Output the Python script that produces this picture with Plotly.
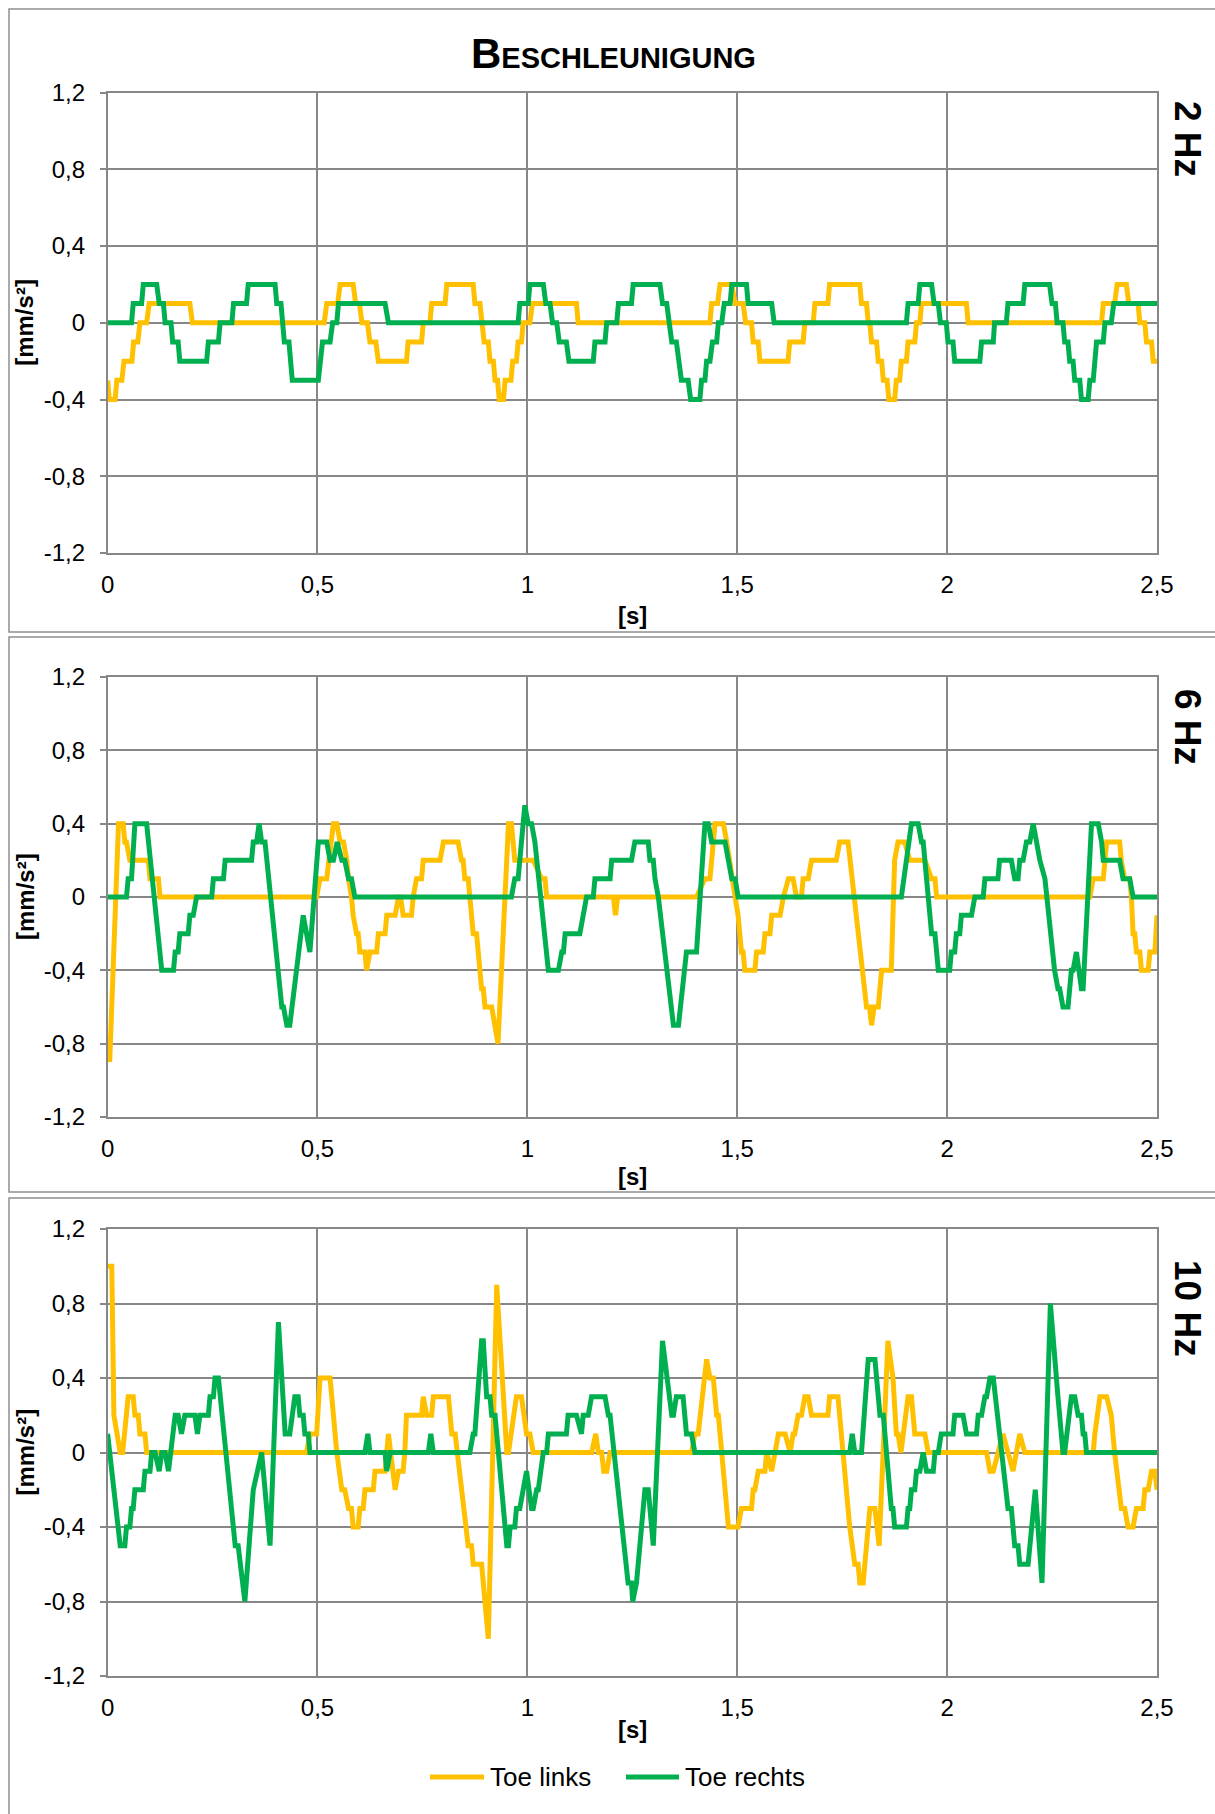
import plotly.graph_objects as go

# ---------------- data (time [s], acceleration [mm/s²]) ----------------
links_2hz = [(0, -0.3), (0.004, -0.4), (0.018, -0.4), (0.022, -0.3), (0.034, -0.3), (0.039, -0.2), (0.058, -0.2),
             (0.062, -0.1), (0.072, -0.1), (0.077, 0), (0.093, 0), (0.099, 0.1), (0.196, 0.1), (0.202, 0),
             (0.516, 0), (0.522, 0.1), (0.548, 0.1), (0.554, 0.2), (0.585, 0.2), (0.591, 0.1), (0.600, 0.1),
             (0.606, 0), (0.619, 0), (0.625, -0.1), (0.639, -0.1), (0.645, -0.2), (0.712, -0.2), (0.716, -0.1),
             (0.748, -0.1), (0.752, 0), (0.768, 0), (0.772, 0.1), (0.804, 0.1), (0.808, 0.2), (0.871, 0.2),
             (0.875, 0.1), (0.887, 0.1), (0.893, 0), (0.897, -0.1), (0.907, -0.1), (0.911, -0.2), (0.919, -0.2),
             (0.923, -0.3), (0.929, -0.3), (0.933, -0.4), (0.943, -0.4), (0.947, -0.3), (0.961, -0.3),
             (0.965, -0.2), (0.974, -0.2), (0.978, -0.1), (0.986, -0.1), (0.990, 0), (1.006, 0), (1.012, 0.1),
             (1.117, 0.1), (1.121, 0), (1.435, 0), (1.439, 0.1), (1.453, 0.1), (1.459, 0.2), (1.487, 0.2),
             (1.495, 0.1), (1.514, 0.1), (1.520, 0), (1.534, 0), (1.538, -0.1), (1.550, -0.1), (1.554, -0.2),
             (1.621, -0.2), (1.625, -0.1), (1.657, -0.1), (1.661, 0), (1.681, 0), (1.685, 0.1), (1.716, 0.1),
             (1.720, 0.2), (1.792, 0.2), (1.796, 0.1), (1.808, 0.1), (1.812, 0), (1.816, 0), (1.820, -0.1),
             (1.832, -0.1), (1.836, -0.2), (1.844, -0.2), (1.848, -0.3), (1.857, -0.3), (1.861, -0.4),
             (1.875, -0.4), (1.879, -0.3), (1.887, -0.3), (1.891, -0.2), (1.903, -0.2), (1.907, -0.1),
             (1.923, -0.1), (1.927, 0), (1.935, 0), (1.939, 0.1), (2.046, 0.1), (2.050, 0), (2.368, 0),
             (2.372, 0.1), (2.399, 0.1), (2.405, 0.2), (2.427, 0.2), (2.433, 0.1), (2.455, 0.1), (2.459, 0),
             (2.471, 0), (2.475, -0.1), (2.487, -0.1), (2.491, -0.2), (2.5, -0.2)]

rechts_2hz = [(0, 0), (0.057, 0), (0.061, 0.1), (0.081, 0.1), (0.085, 0.2), (0.117, 0.2), (0.123, 0.1),
              (0.133, 0.1), (0.137, 0), (0.151, 0), (0.155, -0.1), (0.168, -0.1), (0.172, -0.2), (0.236, -0.2),
              (0.240, -0.1), (0.264, -0.1), (0.268, 0), (0.296, 0), (0.300, 0.1), (0.331, 0.1), (0.335, 0.2),
              (0.399, 0.2), (0.403, 0.1), (0.413, 0.1), (0.417, 0), (0.421, -0.1), (0.432, -0.1), (0.436, -0.2),
              (0.440, -0.3), (0.502, -0.3), (0.506, -0.2), (0.512, -0.1), (0.530, -0.1), (0.536, 0), (0.546, 0),
              (0.550, 0.1), (0.661, 0.1), (0.669, 0), (0.978, 0), (0.982, 0.1), (1.002, 0.1), (1.006, 0.2),
              (1.038, 0.2), (1.044, 0.1), (1.054, 0.1), (1.060, 0), (1.070, 0), (1.076, -0.1), (1.093, -0.1),
              (1.099, -0.2), (1.157, -0.2), (1.161, -0.1), (1.185, -0.1), (1.189, 0), (1.213, 0), (1.217, 0.1),
              (1.248, 0.1), (1.252, 0.2), (1.316, 0.2), (1.322, 0.1), (1.332, 0.1), (1.338, 0), (1.344, -0.1),
              (1.355, -0.1), (1.361, -0.2), (1.367, -0.3), (1.383, -0.3), (1.389, -0.4), (1.411, -0.4),
              (1.415, -0.3), (1.423, -0.3), (1.427, -0.2), (1.435, -0.2), (1.441, -0.1), (1.451, -0.1),
              (1.455, 0), (1.463, 0), (1.469, 0.1), (1.483, 0.1), (1.487, 0.2), (1.522, 0.2), (1.526, 0.1),
              (1.582, 0.1), (1.588, 0), (1.903, 0), (1.907, 0.1), (1.931, 0.1), (1.935, 0.2), (1.963, 0.2),
              (1.969, 0.1), (1.979, 0.1), (1.984, 0), (1.998, 0), (2.002, -0.1), (2.014, -0.1), (2.018, -0.2),
              (2.078, -0.2), (2.082, -0.1), (2.110, -0.1), (2.113, 0), (2.141, 0), (2.145, 0.1), (2.181, 0.1),
              (2.185, 0.2), (2.244, 0.2), (2.250, 0.1), (2.258, 0.1), (2.262, 0), (2.276, 0), (2.280, -0.1),
              (2.288, -0.1), (2.292, -0.2), (2.300, -0.2), (2.304, -0.3), (2.316, -0.3), (2.320, -0.4),
              (2.336, -0.4), (2.340, -0.3), (2.348, -0.3), (2.352, -0.2), (2.356, -0.1), (2.372, -0.1),
              (2.376, 0), (2.391, 0), (2.397, 0.1), (2.5, 0.1)]

links_6hz = [(0, -0.8), (0.005, -0.9), (0.026, 0.4), (0.037, 0.4), (0.041, 0.3), (0.045, 0.3), (0.053, 0.2),
             (0.097, 0.2), (0.101, 0.1), (0.121, 0.1), (0.125, 0), (0.498, 0), (0.506, 0.1), (0.522, 0.1),
             (0.538, 0.4), (0.546, 0.4), (0.554, 0.3), (0.562, 0.3), (0.570, 0.2), (0.574, 0.1), (0.581, 0),
             (0.585, -0.1), (0.593, -0.2), (0.597, -0.2), (0.601, -0.3), (0.613, -0.3), (0.617, -0.4),
             (0.625, -0.3), (0.641, -0.3), (0.645, -0.2), (0.661, -0.2), (0.665, -0.1), (0.685, -0.1),
             (0.693, 0), (0.698, 0), (0.704, -0.1), (0.724, -0.1), (0.728, 0), (0.736, 0.1), (0.748, 0.1),
             (0.752, 0.2), (0.792, 0.2), (0.800, 0.3), (0.835, 0.3), (0.843, 0.2), (0.847, 0.2), (0.851, 0.1),
             (0.859, 0.1), (0.867, -0.1), (0.871, -0.2), (0.879, -0.2), (0.883, -0.3), (0.887, -0.4),
             (0.891, -0.5), (0.895, -0.5), (0.899, -0.6), (0.915, -0.6), (0.930, -0.8), (0.955, 0.4),
             (0.962, 0.4), (0.970, 0.2), (1.014, 0.2), (1.034, 0.1), (1.042, 0.1), (1.046, 0), (1.205, 0),
             (1.210, -0.1), (1.215, 0), (1.403, 0), (1.423, 0.1), (1.435, 0.1), (1.447, 0.4), (1.467, 0.4),
             (1.475, 0.3), (1.495, 0), (1.502, -0.1), (1.510, -0.3), (1.514, -0.3), (1.518, -0.4), (1.542, -0.4),
             (1.546, -0.3), (1.562, -0.3), (1.566, -0.2), (1.578, -0.2), (1.582, -0.1), (1.602, -0.1),
             (1.610, 0), (1.622, 0.1), (1.633, 0.1), (1.641, 0), (1.653, 0), (1.657, 0.1), (1.669, 0.1),
             (1.677, 0.2), (1.736, 0.2), (1.744, 0.3), (1.764, 0.3), (1.808, -0.6), (1.815, -0.6), (1.820, -0.7),
             (1.826, -0.6), (1.836, -0.6), (1.844, -0.4), (1.867, -0.4), (1.875, 0.2), (1.883, 0.3),
             (1.899, 0.3), (1.911, 0.2), (1.947, 0.2), (1.963, 0.1), (1.971, 0.1), (1.975, 0), (2.340, 0),
             (2.348, 0.1), (2.372, 0.1), (2.380, 0.3), (2.411, 0.3), (2.415, 0.2), (2.423, 0.1), (2.435, 0.1),
             (2.439, 0), (2.443, -0.2), (2.447, -0.2), (2.451, -0.3), (2.459, -0.3), (2.463, -0.4),
             (2.479, -0.4), (2.483, -0.3), (2.495, -0.3), (2.5, -0.1)]

rechts_6hz = [(0, 0), (0.045, 0), (0.049, 0.1), (0.057, 0.1), (0.065, 0.4), (0.093, 0.4), (0.129, -0.4),
              (0.157, -0.4), (0.161, -0.3), (0.168, -0.3), (0.172, -0.2), (0.192, -0.2), (0.196, -0.1),
              (0.204, -0.1), (0.212, 0), (0.248, 0), (0.252, 0.1), (0.276, 0.1), (0.280, 0.2), (0.343, 0.2),
              (0.347, 0.3), (0.355, 0.3), (0.361, 0.4), (0.367, 0.3), (0.375, 0.3), (0.415, -0.6), (0.419, -0.6),
              (0.427, -0.7), (0.434, -0.7), (0.466, -0.1), (0.482, -0.3), (0.502, 0.3), (0.522, 0.3),
              (0.530, 0.2), (0.538, 0.2), (0.547, 0.3), (0.558, 0.2), (0.565, 0.2), (0.574, 0.1), (0.581, 0.1),
              (0.589, 0), (0.962, 0), (0.970, 0.1), (0.978, 0.1), (0.994, 0.5), (1.002, 0.4), (1.010, 0.4),
              (1.018, 0.3), (1.050, -0.4), (1.074, -0.4), (1.082, -0.3), (1.086, -0.3), (1.090, -0.2),
              (1.125, -0.2), (1.133, -0.1), (1.141, 0), (1.157, 0), (1.161, 0.1), (1.197, 0.1), (1.201, 0.2),
              (1.248, 0.2), (1.256, 0.3), (1.288, 0.3), (1.292, 0.2), (1.300, 0.2), (1.304, 0.1), (1.312, 0),
              (1.348, -0.7), (1.360, -0.7), (1.379, -0.3), (1.403, -0.3), (1.423, 0.4), (1.431, 0.4),
              (1.439, 0.3), (1.471, 0.3), (1.479, 0.2), (1.487, 0.1), (1.495, 0.1), (1.502, 0), (1.891, 0),
              (1.915, 0.4), (1.931, 0.4), (1.939, 0.3), (1.943, 0.3), (1.951, 0.1), (1.963, -0.2), (1.971, -0.2),
              (1.979, -0.4), (2.006, -0.4), (2.010, -0.3), (2.018, -0.3), (2.022, -0.2), (2.030, -0.2),
              (2.034, -0.1), (2.058, -0.1), (2.066, 0), (2.086, 0), (2.090, 0.1), (2.121, 0.1), (2.125, 0.2),
              (2.153, 0.2), (2.161, 0.1), (2.169, 0.1), (2.173, 0.2), (2.181, 0.2), (2.189, 0.3), (2.197, 0.3),
              (2.205, 0.4), (2.213, 0.3), (2.221, 0.2), (2.233, 0.1), (2.256, -0.4), (2.264, -0.5), (2.268, -0.5),
              (2.276, -0.6), (2.288, -0.6), (2.296, -0.4), (2.300, -0.4), (2.308, -0.3), (2.320, -0.5),
              (2.324, -0.5), (2.344, 0.4), (2.360, 0.4), (2.368, 0.3), (2.372, 0.2), (2.411, 0.2), (2.419, 0.1),
              (2.435, 0.1), (2.443, 0), (2.5, 0)]

links_10hz = [(0, 1.0), (0.010, 1.0), (0.015, 0.2), (0.030, 0), (0.036, 0), (0.049, 0.3), (0.061, 0.3),
              (0.065, 0.2), (0.073, 0.2), (0.077, 0.1), (0.089, 0.1), (0.093, 0), (0.474, 0), (0.482, 0.1),
              (0.498, 0.1), (0.506, 0.4), (0.530, 0.4), (0.546, 0), (0.558, -0.2), (0.565, -0.2), (0.574, -0.3),
              (0.581, -0.3), (0.585, -0.4), (0.597, -0.4), (0.601, -0.3), (0.609, -0.3), (0.613, -0.2),
              (0.633, -0.2), (0.637, -0.1), (0.661, -0.1), (0.669, 0.1), (0.685, -0.2), (0.693, -0.1),
              (0.704, -0.1), (0.708, 0), (0.712, 0.2), (0.748, 0.2), (0.752, 0.3), (0.760, 0.2), (0.772, 0.2),
              (0.776, 0.3), (0.812, 0.3), (0.820, 0.1), (0.828, 0.1), (0.859, -0.5), (0.867, -0.5),
              (0.871, -0.6), (0.891, -0.6), (0.907, -1.0), (0.927, 0.9), (0.951, 0), (0.955, 0), (0.974, 0.3),
              (0.986, 0.3), (0.998, 0.1), (1.006, 0.1), (1.014, 0), (1.153, 0), (1.163, 0.1), (1.169, 0),
              (1.177, 0), (1.182, -0.1), (1.189, -0.1), (1.197, 0), (1.391, 0), (1.399, 0.1), (1.407, 0.1),
              (1.427, 0.5), (1.435, 0.4), (1.443, 0.4), (1.451, 0.2), (1.455, 0.2), (1.479, -0.4), (1.502, -0.4),
              (1.510, -0.3), (1.534, -0.3), (1.538, -0.2), (1.542, -0.2), (1.550, -0.1), (1.566, -0.1),
              (1.570, 0), (1.582, -0.1), (1.598, 0.1), (1.614, 0.1), (1.626, 0), (1.633, 0.1), (1.637, 0.1),
              (1.645, 0.2), (1.653, 0.2), (1.661, 0.3), (1.669, 0.3), (1.677, 0.2), (1.716, 0.2), (1.720, 0.3),
              (1.740, 0.3), (1.752, 0), (1.768, -0.4), (1.780, -0.6), (1.788, -0.6), (1.792, -0.7), (1.800, -0.7),
              (1.816, -0.3), (1.828, -0.3), (1.838, -0.5), (1.859, 0.6), (1.871, 0.4), (1.879, 0.1),
              (1.883, 0.1), (1.890, 0), (1.907, 0.3), (1.915, 0.3), (1.923, 0.1), (1.947, 0.1), (1.955, 0),
              (2.094, 0), (2.102, -0.1), (2.110, -0.1), (2.133, 0.1), (2.157, -0.1), (2.173, 0.1), (2.185, 0),
              (2.348, 0), (2.352, 0.1), (2.364, 0.3), (2.380, 0.3), (2.391, 0.2), (2.399, 0), (2.415, -0.3),
              (2.423, -0.3), (2.431, -0.4), (2.443, -0.4), (2.451, -0.3), (2.467, -0.3), (2.471, -0.2),
              (2.479, -0.2), (2.487, -0.1), (2.495, -0.1), (2.5, -0.2)]

rechts_10hz = [(0, 0.1), (0.030, -0.5), (0.041, -0.5), (0.045, -0.4), (0.053, -0.4), (0.057, -0.3),
               (0.061, -0.3), (0.065, -0.2), (0.085, -0.2), (0.089, -0.1), (0.101, -0.1), (0.105, 0),
               (0.113, 0), (0.123, -0.1), (0.129, 0), (0.137, 0), (0.145, -0.1), (0.161, 0.2), (0.168, 0.2),
               (0.176, 0.1), (0.184, 0.2), (0.208, 0.2), (0.214, 0.1), (0.220, 0.2), (0.240, 0.2), (0.244, 0.3),
               (0.252, 0.3), (0.256, 0.4), (0.264, 0.4), (0.304, -0.5), (0.311, -0.5), (0.327, -0.8),
               (0.347, -0.2), (0.367, 0), (0.387, -0.5), (0.407, 0.7), (0.423, 0.1), (0.434, 0.1), (0.446, 0.3),
               (0.454, 0.3), (0.458, 0.2), (0.466, 0.2), (0.470, 0.1), (0.478, 0.1), (0.482, 0), (0.613, 0),
               (0.620, 0.1), (0.625, 0), (0.661, 0), (0.665, -0.1), (0.673, 0), (0.764, 0), (0.770, 0.1),
               (0.776, 0), (0.863, 0), (0.871, 0.1), (0.875, 0.1), (0.891, 0.6), (0.895, 0.6), (0.903, 0.3),
               (0.911, 0.3), (0.915, 0.2), (0.923, 0.2), (0.951, -0.5), (0.955, -0.5), (0.959, -0.4),
               (0.970, -0.4), (0.974, -0.3), (0.982, -0.3), (0.998, -0.1), (1.010, -0.3), (1.014, -0.3),
               (1.022, -0.2), (1.026, -0.2), (1.038, 0), (1.046, 0), (1.050, 0.1), (1.093, 0.1), (1.097, 0.2),
               (1.117, 0.2), (1.129, 0.1), (1.133, 0.2), (1.145, 0.2), (1.153, 0.3), (1.185, 0.3), (1.193, 0.2),
               (1.197, 0.2), (1.240, -0.7), (1.248, -0.7), (1.251, -0.8), (1.260, -0.7), (1.280, -0.2),
               (1.288, -0.2), (1.300, -0.5), (1.322, 0.6), (1.344, 0.2), (1.348, 0.2), (1.355, 0.3), (1.371, 0.3),
               (1.379, 0.1), (1.391, 0.1), (1.399, 0), (1.768, 0), (1.774, 0.1), (1.780, 0), (1.796, 0),
               (1.812, 0.5), (1.828, 0.5), (1.840, 0.2), (1.848, 0.2), (1.867, -0.3), (1.871, -0.3),
               (1.875, -0.4), (1.903, -0.4), (1.907, -0.3), (1.911, -0.3), (1.915, -0.2), (1.923, -0.2),
               (1.927, -0.1), (1.935, -0.1), (1.943, 0), (1.951, -0.1), (1.967, -0.1), (1.971, 0), (1.979, 0),
               (1.986, 0.1), (2.014, 0.1), (2.018, 0.2), (2.038, 0.2), (2.046, 0.1), (2.070, 0.1), (2.074, 0.2),
               (2.082, 0.2), (2.090, 0.3), (2.094, 0.3), (2.102, 0.4), (2.110, 0.4), (2.145, -0.3),
               (2.153, -0.3), (2.161, -0.5), (2.169, -0.5), (2.173, -0.6), (2.193, -0.6), (2.210, -0.2),
               (2.226, -0.7), (2.246, 0.8), (2.264, 0.3), (2.276, 0), (2.280, 0), (2.296, 0.3), (2.304, 0.3),
               (2.312, 0.2), (2.320, 0.2), (2.324, 0.1), (2.328, 0.1), (2.332, 0), (2.5, 0)]

panel_labels = ["2 Hz", "6 Hz", "10 Hz"]
series_names = ["Toe links", "Toe rechts"]
x_tickvals = [0, 0.5, 1, 1.5, 2, 2.5]
x_ticktext = ["0", "0,5", "1", "1,5", "2", "2,5"]
y_tickvals = [-1.2, -0.8, -0.4, 0, 0.4, 0.8, 1.2]
y_ticktext = ["-1,2", "-0,8", "-0,4", "0", "0,4", "0,8", "1,2"]

# ---------------- layout constants ----------------
W, H = 1215, 1814
FONT = "Liberation Sans, Arial, sans-serif"
YELLOW = "#FFC000"
GREEN = "#00B050"
GRID = "#878787"
FRAME = "#8f8f8f"
COLORS = [YELLOW, GREEN]

def px_x(v):
    return v / W

def px_y(v):
    return 1 - v / H

plot_left, plot_right = 107.6, 1157.0
panels_px = [(92.6, 553.0), (677.0, 1117.0), (1229.0, 1676.0)]   # top, bottom
frames_px = [(9, 632), (637, 1192), (1198, 1830)]
label_y_px = [139, 727, 1308]
s_label_px = [616, 1176, 1729]
legend_y_px = 1777
legend_items_px = [(430, 484), (626, 679)]   # sample line start / end

data = [(links_2hz, rechts_2hz), (links_6hz, rechts_6hz), (links_10hz, rechts_10hz)]

fig = go.Figure()
layout = dict(
    width=W, height=H,
    margin=dict(l=0, r=0, t=0, b=0, autoexpand=False),
    paper_bgcolor="white", plot_bgcolor="white",
    font=dict(family=FONT, size=24, color="black"),
    showlegend=False,
)

annotations = []
shapes = []
for i, ((lk, rc), (top, bot)) in enumerate(zip(data, panels_px)):
    n = "" if i == 0 else str(i + 1)
    xa, ya = "x" + n, "y" + n
    for series, name, col in ((lk, series_names[0], YELLOW), (rc, series_names[1], GREEN)):
        fig.add_trace(go.Scatter(
            x=[p[0] for p in series], y=[p[1] for p in series],
            mode="lines", name=name, line=dict(color=col, width=5),
            xaxis=xa, yaxis=ya, hoverinfo="skip"))
    layout["xaxis" + n] = dict(
        domain=[px_x(plot_left), px_x(plot_right)], anchor=ya, range=[0, 2.5], automargin=False,
        tickvals=x_tickvals, ticktext=x_ticktext, showgrid=True, gridcolor=GRID, gridwidth=1.5,
        showline=True, linecolor=GRID, linewidth=1.5, mirror=True, zeroline=False,
        ticks="", ticklabelstandoff=9, tickfont=dict(family=FONT, size=24, color="black"),
        fixedrange=True)
    layout["yaxis" + n] = dict(
        domain=[px_y(bot), px_y(top)], anchor=xa, range=[-1.2, 1.2], automargin=False,
        tickvals=y_tickvals, ticktext=y_ticktext, showgrid=True, gridcolor=GRID, gridwidth=1.5,
        showline=True, linecolor=GRID, linewidth=1.5, mirror=True, zeroline=False,
        ticks="outside", ticklen=6, tickcolor=GRID, tickwidth=1.5, ticklabelstandoff=10,
        tickfont=dict(family=FONT, size=24, color="black"), fixedrange=True)
    ft, fb = frames_px[i]
    shapes.append(dict(type="rect", xref="paper", yref="paper", x0=px_x(9), x1=px_x(1230),
                       y0=px_y(fb), y1=px_y(ft), line=dict(color=FRAME, width=1.5), layer="below"))
    annotations.append(dict(text="<b>" + panel_labels[i] + "</b>", x=px_x(1188), y=px_y(label_y_px[i]),
                            xref="paper", yref="paper", xanchor="center", yanchor="middle",
                            showarrow=False, textangle=90,
                            font=dict(family=FONT, size=37, color="black")))
    annotations.append(dict(text="<b>[mm/s²]</b>", x=px_x(25), y=px_y((top + bot) / 2),
                            xref="paper", yref="paper", xanchor="center", yanchor="middle",
                            showarrow=False, textangle=-90,
                            font=dict(family=FONT, size=24, color="black")))
    annotations.append(dict(text="<b>[s]</b>", x=px_x((plot_left + plot_right) / 2), y=px_y(s_label_px[i]),
                            xref="paper", yref="paper", xanchor="center", yanchor="middle",
                            showarrow=False, font=dict(family=FONT, size=24, color="black")))

annotations.append(dict(text="<b>Beschleunigung</b>", x=px_x(613), y=px_y(54), xref="paper", yref="paper",
                        xanchor="center", yanchor="middle", showarrow=False,
                        font=dict(family=FONT, size=42, color="black", variant="small-caps")))

# legend (sample line + label)
for (lx0, lx1), name, col in zip(legend_items_px, series_names, COLORS):
    shapes.append(dict(type="line", xref="paper", yref="paper", x0=px_x(lx0), x1=px_x(lx1),
                       y0=px_y(legend_y_px), y1=px_y(legend_y_px), line=dict(color=col, width=5)))
    annotations.append(dict(text=name, x=px_x(lx1 + 4), y=px_y(legend_y_px), xref="paper", yref="paper",
                            xanchor="left", yanchor="middle", showarrow=False,
                            font=dict(family=FONT, size=26, color="black")))

layout["annotations"] = annotations
layout["shapes"] = shapes
fig.update_layout(**layout)
fig.write_html("out.html",
               post_script="document.body.style.margin='0';document.body.style.padding='0';")
